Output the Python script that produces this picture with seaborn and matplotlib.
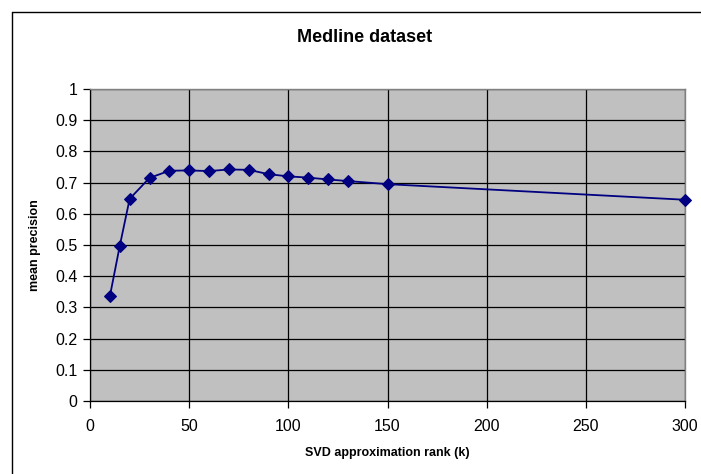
import matplotlib
matplotlib.use("Agg")
import matplotlib.pyplot as plt
import seaborn as sns
import pandas as pd
from matplotlib.lines import Line2D

rank_k = [10, 15, 20, 30, 40, 50, 60, 70, 80, 90, 100, 110, 120, 130, 150, 300]
mean_precision = [0.335, 0.497, 0.648, 0.715, 0.738, 0.739, 0.737, 0.742, 0.741,
                  0.727, 0.720, 0.716, 0.710, 0.705, 0.695, 0.645]
x_ticks = [0, 50, 100, 150, 200, 250, 300]
y_ticks = [0, 0.1, 0.2, 0.3, 0.4, 0.5, 0.6, 0.7, 0.8, 0.9, 1]
y_tick_labels = ["0", "0.1", "0.2", "0.3", "0.4", "0.5", "0.6", "0.7", "0.8", "0.9", "1"]

df = pd.DataFrame({"k": rank_k, "precision": mean_precision})

sns.set_theme(style="white")
plt.rcParams['font.family'] = ['Liberation Sans', 'DejaVu Sans']
plt.rcParams['text.color'] = 'black'
plt.rcParams['axes.labelcolor'] = 'black'
plt.rcParams['xtick.color'] = 'black'
plt.rcParams['ytick.color'] = 'black'

fig = plt.figure(figsize=(7.01, 4.74), dpi=100)
ax = fig.add_axes([90/701, 73/474, 595/701, 312/474])
ax.set_facecolor("#C0C0C0")

sns.lineplot(data=df, x="k", y="precision", ax=ax, color="#000080", marker="D",
             markersize=6.5, markeredgecolor="#000080", linewidth=1.3, clip_on=False, zorder=5)

ax.set_xlim(0, 300)
ax.set_ylim(0, 1)
ax.set_xticks(x_ticks)
ax.set_yticks(y_ticks)
ax.set_yticklabels(y_tick_labels)
ax.grid(True, color="black", linewidth=0.9)
ax.set_axisbelow(True)
ax.tick_params(axis="both", which="both", direction="out", length=5, width=0.9,
               color="black", labelcolor="black", labelsize=11.5, bottom=True, left=True)
ax.tick_params(axis="x", pad=8)
ax.tick_params(axis="y", pad=4)
for s in ["left", "bottom"]:
    ax.spines[s].set_color("black")
    ax.spines[s].set_linewidth(0.9)
for s in ["top", "right"]:
    ax.spines[s].set_color("#808080")
    ax.spines[s].set_linewidth(1.0)

ax.set_xlabel("SVD approximation rank (k)", fontsize=9, fontweight="bold", labelpad=9,
              color="black")
ax.set_ylabel("mean precision", fontsize=9, fontweight="bold", labelpad=10, color="black")
fig.text(365/701, 1 - 38/474, "Medline dataset", ha="center", va="center",
         fontsize=13, fontweight="bold", color="black")

# chart-area border (cropped on right and bottom)
fig.add_artist(Line2D([12/701, 12/701], [0, 1 - 12/474], color="black", linewidth=1,
                      transform=fig.transFigure))
fig.add_artist(Line2D([12/701, 1], [1 - 12/474, 1 - 12/474], color="black", linewidth=1,
                      transform=fig.transFigure))

fig.savefig("out.png", dpi=100, facecolor="white")
